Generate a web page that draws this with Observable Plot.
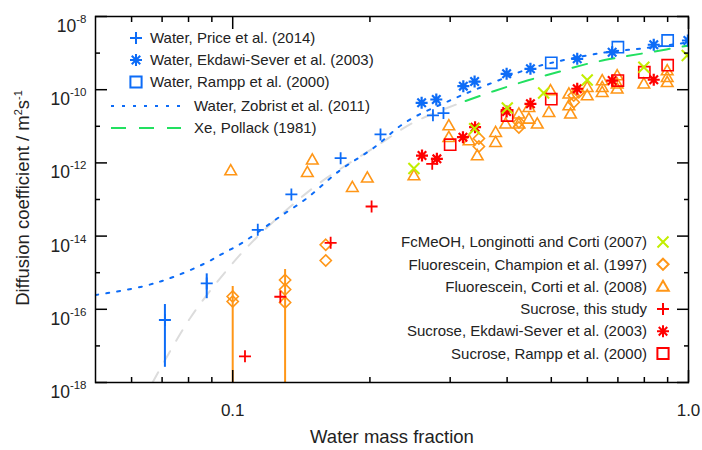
<!DOCTYPE html>
<html><head><meta charset="utf-8">
<script src="https://cdn.jsdelivr.net/npm/d3@7"></script>
<script src="https://cdn.jsdelivr.net/npm/@observablehq/plot@0.6"></script>
<style>
body{margin:0;background:#fff;}
svg{font-family:"Liberation Sans",Arial,Helvetica,sans-serif;}
</style>
</head><body><div id="chart"></div>
<script>
// ---------- axis ticks ----------
const xMinorTicks = [0.06,0.07,0.08,0.09,0.2,0.3,0.4,0.5,0.6,0.7,0.8,0.9];
const xMajorTicks = [0.1, 1.0];
const xTickLabels = ["0.1", "1.0"];
const yMajorTicks = [1e-18,1e-16,1e-14,1e-12,1e-10,1e-8];
const yMinorTicks = [1e-17,1e-15,1e-13,1e-11,1e-9];
const yTickExponents = ["-18","-16","-14","-12","-10","-8"];

// ---------- series ----------
// Water, Price et al. (2014)
const priceX = [0.071, 0.0877, 0.1135, 0.1345, 0.1725, 0.211, 0.275, 0.290];
const priceY = [5.1e-17, 5.1e-16, 1.48e-14, 1.38e-13, 1.35e-12, 6.0e-12, 2.0e-11, 2.3e-11];
const priceErrX = [0.071, 0.0877];
const priceErrLo = [2.6e-18, 1.95e-16];
const priceErrHi = [1.35e-16, 9.3e-16];
// Water, Ekdawi-Sever et al. (2003)
const ekWaterX = [0.2597, 0.2797, 0.3206, 0.3394, 0.399, 0.450, 0.570, 0.680, 0.839, 0.997];
const ekWaterY = [4.39e-11, 5.4e-11, 1.25e-10, 1.67e-10, 2.72e-10, 3.72e-10, 6.98e-10, 1.06e-9, 1.69e-9, 2.21e-9];
// Water, Rampp et al. (2000)
const ramppWaterX = [0.50, 0.70, 0.90];
const ramppWaterY = [5.43e-10, 1.45e-9, 2.21e-9];
// Water, Zobrist et al. (2011)
const zobristX = [0.050, 0.0634, 0.0738, 0.0865, 0.0949, 0.105, 0.1142, 0.1264, 0.1458, 0.1725, 0.204, 0.2395, 0.303, 0.374, 0.457, 0.641, 0.798, 1.0];
const zobristY = [2.45e-16, 4.2e-16, 7.5e-16, 1.75e-15, 3.28e-15, 6.56e-15, 1.34e-14, 3.28e-14, 1.11e-13, 6.47e-13, 2.59e-12, 1.29e-11, 5.4e-11, 1.6e-10, 4.05e-10, 9.93e-10, 1.36e-9, 1.95e-9];
// Xe, Pollack (1981): extrapolation (grey) and measured range (green)
const xeExtX = [0.0667, 0.0809, 0.099, 0.1123, 0.1329, 0.156, 0.2076, 0.2497, 0.3243];
const xeExtY = [1e-18, 6.08e-17, 1.57e-15, 8.6e-15, 5.93e-14, 2.97e-13, 2.99e-12, 1.29e-11, 4.91e-11];
const xeX = [0.3243, 0.3736, 0.443, 0.515, 0.600, 0.698, 0.825, 1.0];
const xeY = [4.91e-11, 9.1e-11, 1.78e-10, 3.0e-10, 5.1e-10, 7.45e-10, 1.06e-9, 1.61e-9];
// FcMeOH, Longinotti and Corti (2007)
const fcX = [0.2498, 0.3394, 0.4003, 0.481, 0.5995, 0.798, 0.9935];
const fcY = [7.03e-13, 8.55e-12, 3.16e-11, 8.13e-11, 1.84e-10, 4.12e-10, 8.6e-10];
// Fluorescein, Champion et al. (1997)
const champX = [0.100, 0.100, 0.1303, 0.1303, 0.1303, 0.160, 0.160, 0.3468, 0.3468, 0.4245, 0.4245, 0.560, 0.560, 0.5745];
const champY = [2.24e-16, 1.63e-16, 6.3e-16, 3.48e-16, 1.53e-16, 5.78e-15, 2.15e-15, 4.65e-12, 2.8e-12, 1.29e-11, 9.27e-12, 6.95e-11, 4.55e-11, 8.55e-11];
const champErrX = [0.100, 0.1303];
const champErrLo = [1e-20, 1e-20];
const champErrHi = [4.2e-16, 1.22e-15];
// Fluorescein, Corti et al. (2008)
const cortiX = [0.0990, 0.1458, 0.1495, 0.1830, 0.1974, 0.2498, 0.298, 0.298, 0.330, 0.344, 0.3774, 0.3774, 0.397, 0.4245, 0.4245, 0.4465, 0.4465, 0.4658, 0.494, 0.498, 0.5465, 0.5465, 0.551, 0.5995, 0.5995, 0.6467, 0.6467, 0.6467, 0.6974, 0.6974, 0.6974, 0.798, 0.898, 0.898, 0.898];
const cortiY = [6.19e-13, 5.57e-13, 1.22e-12, 2.17e-13, 3.92e-13, 4.53e-13, 1.05e-11, 5.04e-12, 4.09e-12, 1.59e-12, 6.9e-12, 3.68e-12, 1.17e-11, 2.2e-11, 1.17e-11, 3.33e-11, 1.6e-11, 1.17e-11, 2.43e-11, 9.5e-11, 7.73e-11, 3.7e-11, 2.2e-11, 1.17e-10, 6.95e-11, 1.78e-10, 1.17e-10, 8.55e-11, 2.44e-10, 1.45e-10, 1.06e-10, 1.45e-10, 3.35e-10, 2.2e-10, 1.6e-10];
// Sucrose, this study
const sucX = [0.1064, 0.1272, 0.164, 0.2017, 0.274];
const sucY = [5.2e-18, 2.2e-16, 6.56e-15, 6.44e-14, 9.44e-13];
// Sucrose, Ekdawi-Sever et al. (2003)
const ekSucX = [0.2602, 0.2805, 0.320, 0.3402, 0.399, 0.450, 0.570, 0.680, 0.839];
const ekSucY = [1.59e-12, 1.29e-12, 5.04e-12, 9.44e-12, 2.54e-11, 4.12e-11, 1.06e-10, 1.78e-10, 1.87e-10];
// Sucrose, Rampp et al. (2000)
const ramppSucX = [0.30, 0.40, 0.50, 0.70, 0.80, 0.90];
const ramppSucY = [3.14e-12, 1.97e-11, 5.53e-11, 1.78e-10, 3.0e-10, 4.67e-10];

const legendTop = ["Water, Price et al. (2014)", "Water, Ekdawi-Sever et al. (2003)", "Water, Rampp et al. (2000)"];
const legendLines = ["Water, Zobrist et al. (2011)", "Xe, Pollack (1981)"];
const legendRight = ["FcMeOH, Longinotti and Corti (2007)", "Fluorescein, Champion et al. (1997)", "Fluorescein, Corti et al. (2008)", "Sucrose, this study", "Sucrose, Ekdawi-Sever et al. (2003)", "Sucrose, Rampp et al. (2000)"];

// ---------- styles ----------
const BLUE = "#0d6cf7", ORANGE = "#ff9617", RED = "#ff0000", LIME = "#c2ee00", GREEN = "#22e060", GREY = "#dcdcdc";
const rad = (s) => Math.sqrt(s / Math.PI);
const symPlus = {draw(c, s){const r = rad(s); c.moveTo(-r,0); c.lineTo(r,0); c.moveTo(0,-r); c.lineTo(0,r);}};
const symTimes = {draw(c, s){const r = rad(s); c.moveTo(-r,-r); c.lineTo(r,r); c.moveTo(-r,r); c.lineTo(r,-r);}};
const symAst = {draw(c, s){const r = rad(s), d = r*Math.SQRT1_2; c.moveTo(-r,0); c.lineTo(r,0); c.moveTo(0,-r); c.lineTo(0,r); c.moveTo(-d,-d); c.lineTo(d,d); c.moveTo(-d,d); c.lineTo(d,-d);}};
const symSquare = {draw(c, s){const r = rad(s); c.moveTo(-r,-r); c.lineTo(r,-r); c.lineTo(r,r); c.lineTo(-r,r); c.closePath();}};
const symDiamond = {draw(c, s){const r = rad(s); c.moveTo(0,-r); c.lineTo(r,0); c.lineTo(0,r); c.lineTo(-r,0); c.closePath();}};
const symTri = {draw(c, s){const r = rad(s), h = r*1.75; c.moveTo(0,-h*0.58); c.lineTo(r,h*0.42); c.lineTo(-r,h*0.42); c.closePath();}};

const rows = (xs, ys) => xs.map((x, i) => ({x, y: ys[i]}));
const errRows = (xs, lo, hi) => xs.map((x, i) => ({x, lo: lo[i], hi: hi[i]}));
const dots = (xs, ys, symbol, stroke, r, sw = 1.6) =>
  Plot.dot(rows(xs, ys), {x: "x", y: "y", symbol, stroke, fill: "none", r, strokeWidth: sw, clip: true});

const plot = Plot.plot({
  width: 702, height: 450,
  marginLeft: 95, marginRight: 14, marginTop: 16, marginBottom: 68,
  x: {type: "log", domain: [0.05, 1]},
  y: {type: "log", domain: [1e-18, 1e-8]},
  style: {background: "white", color: "black", fontFamily: '"Liberation Sans",Arial,sans-serif'},
  marks: [
    // lines
    Plot.line(rows(xeExtX, xeExtY), {x: "x", y: "y", stroke: GREY, strokeWidth: 2, strokeDasharray: "12,12", curve: "catmull-rom", clip: true}),
    Plot.line(rows(xeX, xeY), {x: "x", y: "y", stroke: GREEN, strokeWidth: 2, strokeDasharray: "15,13", curve: "catmull-rom", clip: true}),
    Plot.line(rows(zobristX, zobristY), {x: "x", y: "y", stroke: BLUE, strokeWidth: 2, strokeDasharray: "3,8", curve: "catmull-rom", clip: true}),
    // error bars
    Plot.ruleX(errRows(champErrX, champErrLo, champErrHi), {x: "x", y1: "lo", y2: "hi", stroke: ORANGE, strokeWidth: 2, clip: true}),
    Plot.ruleX(errRows(priceErrX, priceErrLo, priceErrHi), {x: "x", y1: "lo", y2: "hi", stroke: BLUE, strokeWidth: 2, clip: true}),
    // points
    dots(cortiX, cortiY, symTri, ORANGE, 5.8),
    dots(champX, champY, symDiamond, ORANGE, 5.6),
    dots(ramppSucX, ramppSucY, symSquare, RED, 5.6),
    dots(ekSucX, ekSucY, symAst, RED, 6, 2.2),
    dots(sucX, sucY, symPlus, RED, 6, 1.8),
    dots(fcX, fcY, symTimes, LIME, 5.5, 2),
    dots(ramppWaterX, ramppWaterY, symSquare, BLUE, 5.6),
    dots(ekWaterX, ekWaterY, symAst, BLUE, 6, 2.2),
    dots(priceX, priceY, symPlus, BLUE, 6, 1.8),
    // frame and inward ticks
    Plot.frame({stroke: "black", strokeWidth: 1.5}),
    Plot.axisY(yMajorTicks, {anchor: "left", tickSize: 12, dx: 12, tickFormat: () => "", label: null, strokeWidth: 1.5}),
    Plot.axisY(yMinorTicks, {anchor: "left", tickSize: 5, dx: 5, tickFormat: () => "", label: null, strokeWidth: 1.5}),
    Plot.axisY(yMajorTicks, {anchor: "right", tickSize: 12, dx: -12, tickFormat: () => "", label: null, strokeWidth: 1.5}),
    Plot.axisY(yMinorTicks, {anchor: "right", tickSize: 5, dx: -5, tickFormat: () => "", label: null, strokeWidth: 1.5}),
    Plot.axisX(xMajorTicks, {anchor: "bottom", tickSize: 12, dy: -12, tickFormat: () => "", label: null, strokeWidth: 1.5}),
    Plot.axisX(xMinorTicks, {anchor: "bottom", tickSize: 5, dy: -5, tickFormat: () => "", label: null, strokeWidth: 1.5}),
    Plot.axisX(xMajorTicks, {anchor: "top", tickSize: 12, dy: 12, tickFormat: () => "", label: null, strokeWidth: 1.5}),
    Plot.axisX(xMinorTicks, {anchor: "top", tickSize: 5, dy: 5, tickFormat: () => "", label: null, strokeWidth: 1.5}),
    // tick labels
    Plot.axisY(yMajorTicks, {anchor: "left", tickSize: 0, tickPadding: 9, label: null, fontSize: 17.5,
      tickFormat: (d) => "10^" + yTickExponents[yMajorTicks.indexOf(d)]}),
    Plot.axisX(xMajorTicks, {anchor: "bottom", tickSize: 0, tickPadding: 21, label: null, fontSize: 17,
      tickFormat: (d) => xTickLabels[xMajorTicks.indexOf(d)]}),
    Plot.text(["Water mass fraction"], {frameAnchor: "bottom", dy: 60, fontSize: 18.5, fill: "#222"})
  ]
});

document.getElementById("chart").appendChild(plot);
const svg = d3.select(plot);

// superscript exponents on y tick labels
svg.selectAll('g[aria-label="y-axis tick label"] text').each(function() {
  const t = this.textContent;
  if (!t.startsWith("10^")) return;
  const exp = t.slice(3);
  const el = d3.select(this);
  el.text("").attr("dy", "0.56em").attr("fill", "#222");
  el.append("tspan").text("10");
  el.append("tspan").attr("dy", -9).attr("font-size", 11.5).text(exp);
});
svg.selectAll('g[aria-label="x-axis tick label"] text').attr("fill", "#222");

// y axis title with superscripts
const yt = svg.append("text")
  .attr("transform", "translate(29,198) rotate(-90)")
  .attr("text-anchor", "middle").attr("font-size", 18.5).attr("fill", "#222");
yt.append("tspan").text("Diffusion coefficient / m");
yt.append("tspan").attr("dy", -7).attr("font-size", 11).text("2");
yt.append("tspan").attr("dy", 7).text("s");
yt.append("tspan").attr("dy", -7).attr("font-size", 11).text("-1");

// legends
const sym = (type, r) => d3.symbol(type, r * r * Math.PI)();
const lg = svg.append("g").attr("font-size", 15).attr("fill", "#222");
const topSyms = [[symPlus, 6, BLUE], [symAst, 6, BLUE], [symSquare, 5.6, BLUE]];
legendTop.forEach((label, i) => {
  const y = 38 + i * 22;
  lg.append("path").attr("d", sym(topSyms[i][0], topSyms[i][1])).attr("transform", `translate(136,${y})`)
    .attr("fill", "none").attr("stroke", topSyms[i][2]).attr("stroke-width", 2);
  lg.append("text").attr("x", 150).attr("y", y).attr("dy", "0.35em").attr("text-anchor", "start").text(label);
});
const lineStyles = [[BLUE, "3,8"], [GREEN, "15,13"]];
legendLines.forEach((label, i) => {
  const y = 106 + i * 22;
  lg.append("line").attr("x1", 111).attr("x2", 181).attr("y1", y).attr("y2", y)
    .attr("stroke", lineStyles[i][0]).attr("stroke-width", 2).attr("stroke-dasharray", lineStyles[i][1]);
  lg.append("text").attr("x", 194).attr("y", y).attr("dy", "0.35em").attr("text-anchor", "start").text(label);
});
const rightSyms = [[symTimes, 5.5, LIME], [symDiamond, 5.6, ORANGE], [symTri, 5.8, ORANGE], [symPlus, 6, RED], [symAst, 6, RED], [symSquare, 5.6, RED]];
legendRight.forEach((label, i) => {
  const y = 242 + i * 22.3;
  lg.append("path").attr("d", sym(rightSyms[i][0], rightSyms[i][1])).attr("transform", `translate(663,${y})`)
    .attr("fill", "none").attr("stroke", rightSyms[i][2]).attr("stroke-width", 2);
  lg.append("text").attr("x", 647).attr("y", y).attr("dy", "0.35em").attr("text-anchor", "end").text(label);
});
</script>
</body></html>
